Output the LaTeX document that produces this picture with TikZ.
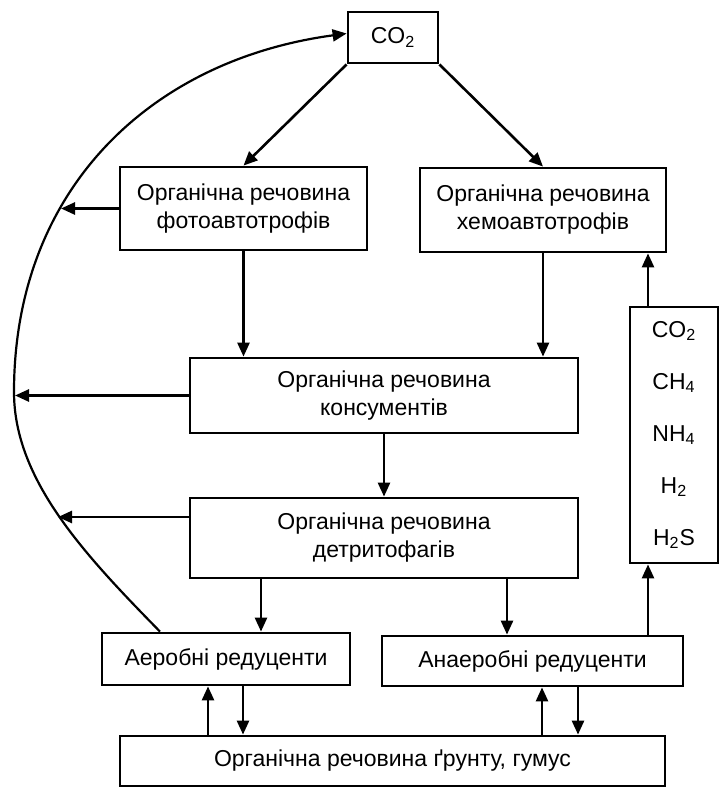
\documentclass[tikz,border=0pt]{standalone}
\usepackage{fontspec}
\setmainfont{Liberation Sans}
\usetikzlibrary{arrows.meta, calc}

\tikzset{
    box/.style={draw, line width=1.4pt, align=center, inner sep=0pt},
    arr/.style={line width=1.3pt, -{Triangle[length=7pt, width=6pt]}},
}

\begin{document}
\begin{tikzpicture}[x=0.5pt, y=-0.5pt, font=\fontsize{11.5}{14}\selectfont]
    \useasboundingbox (0,0) rectangle (719,787);
    \node[box, minimum width=45pt, minimum height=25.5pt] (co2) at (393,37.5) {CO\textsubscript{2}};
    \node[box, minimum width=123.5pt, minimum height=41.5pt] (photo) at (243.5,208.5) {Органічна речовина\\фотоавтотрофів};
    \node[box, minimum width=123pt, minimum height=42pt] (chemo) at (543,210) {Органічна речовина\\хемоавтотрофів};
    \node[box, minimum width=194pt, minimum height=37.5pt] (cons) at (384,395.5) {Органічна речовина\\консументів};
    \node[box, minimum width=194pt, minimum height=40pt] (detr) at (384,538) {Органічна речовина\\детритофагів};
    \node[box, minimum width=124pt, minimum height=26pt] (aero) at (226,659) {Аеробні редуценти};
    \node[box, minimum width=150.5pt, minimum height=25pt] (anaero) at (532.5,661) {Анаеробні редуценти};
    \node[box, minimum width=272.5pt, minimum height=25pt] (soil) at (392.5,761) {Органічна речовина ґрунту, гумус};
    \node[box, minimum width=44pt, minimum height=128pt, font=\fontsize{11.5}{26}\selectfont] (gas) at (674,435)
        {CO\textsubscript{2}\\CH\textsubscript{4}\\NH\textsubscript{4}\\H\textsubscript{2}\\H\textsubscript{2}S};

    \coordinate (xs) at (160,0);
    \coordinate (ar) at (261,0);
    \coordinate (an) at (507,0);
    \coordinate (gs) at (648,0);
    \coordinate (ad) at (243,0);
    \coordinate (au) at (208,0);
    \coordinate (nu) at (542,0);
    \coordinate (nd) at (578,0);
    \coordinate (pt) at (61,208.5);
    \coordinate (ct) at (15,395.5);
    \coordinate (dt) at (58,517);

    \draw[arr] (co2.south west) -- (photo.north);
    \draw[arr] (co2.south east) -- (chemo.north);
    \draw[arr] (photo.south) -- (photo.south |- cons.north);
    \draw[arr] (chemo.south) -- (chemo.south |- cons.north);
    \draw[arr] (cons.south) -- (detr.north);
    \draw[arr] (detr.south -| ar) -- (aero.north -| ar);
    \draw[arr] (detr.south -| an) -- (anaero.north -| an);
    \draw[arr] (anaero.north -| gs) -- (gas.south -| gs);
    \draw[arr] (gas.north -| gs) -- (chemo.south -| gs);
    \draw[arr] (aero.south -| ad) -- (soil.north -| ad);
    \draw[arr] (soil.north -| au) -- (aero.south -| au);
    \draw[arr] (soil.north -| nu) -- (anaero.south -| nu);
    \draw[arr] (anaero.south -| nd) -- (soil.north -| nd);

    \draw[line width=1.1pt, -{Triangle[length=7pt, width=6pt]}] (aero.north -| xs)
        .. controls (85,555) and (14,480) .. (14,392)
        .. controls (14,190) and (150,60) .. ([yshift=2pt]co2.west);
    \draw[arr] (photo.west) -- (pt);
    \draw[arr] (cons.west) -- (ct);
    \draw[arr] (detr.west |- dt) -- (dt);
\end{tikzpicture}
\end{document}
